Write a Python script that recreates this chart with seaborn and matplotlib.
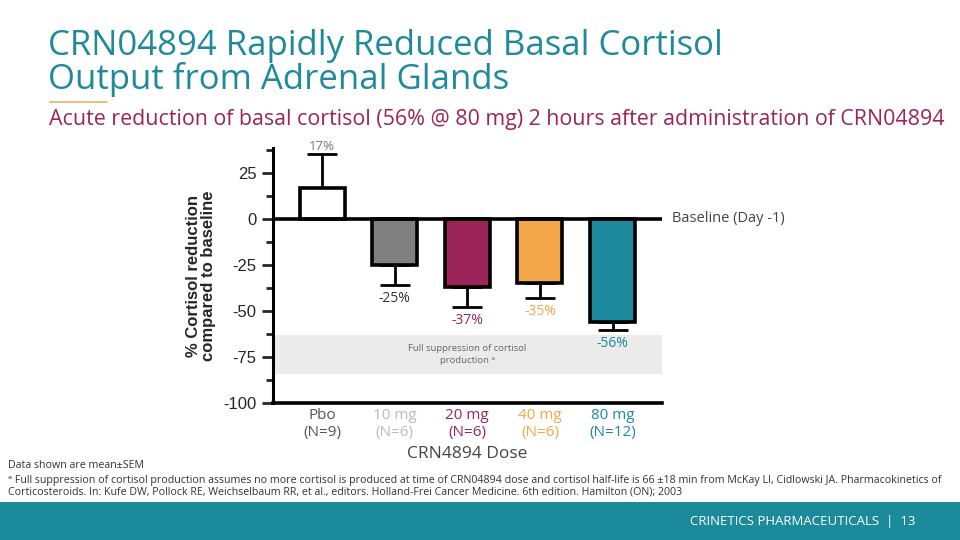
import numpy as np
import pandas as pd
import matplotlib
matplotlib.use("Agg")
import matplotlib.pyplot as plt
import seaborn as sns
from matplotlib.patches import Rectangle
from matplotlib.ticker import MultipleLocator

# data
groups = ["Pbo", "10 mg", "20 mg", "40 mg", "80 mg"]
counts = ["N=9", "N=6", "N=6", "N=6", "N=12"]
change = [17, -25, -37, -35, -56]
sem = [18, 11, 11, 8, 4.5]
value_labels = ["17%", "-25%", "-37%", "-35%", "-56%"]

bar_colors = ["#ffffff", "#808080", "#9b2558", "#f4a74a", "#1c8a9c"]
text_colors = ["#555555", "#bbbbbb", "#9b2558", "#f4a74a", "#1c8a9c"]
label_colors = ["#777777", "#333333", "#9b2558", "#f4a74a", "#1c8a9c"]

TEAL = "#1f8a9c"
SANS = ["Open Sans", "DejaVu Sans"]

df = pd.DataFrame({"group": groups, "change": change, "sem": sem})

sns.set_style("white")
plt.rcParams["font.family"] = SANS
plt.rcParams["axes.unicode_minus"] = False

fig = plt.figure(figsize=(9.6, 5.4), dpi=100)
ax = fig.add_axes([273 / 960, 1 - 403 / 540, (662 - 273) / 960, (403 - 148) / 540])

# shaded suppression zone
ax.axhspan(-84, -63, xmin=0.005, xmax=1.0, color="#ebebeb", zorder=0, lw=0)
ax.text(2.0, -73.5, "Full suppression of cortisol\nproduction ᵃ", ha="center", va="center",
        fontsize=6.8, color="#666666", linespacing=1.4, zorder=1)

sns.barplot(data=df, x="group", y="change", hue="group", palette=bar_colors, saturation=1,
            legend=False, width=0.62, edgecolor="black", linewidth=2.6, ax=ax, zorder=3)

# one-sided error bars
xs = np.arange(len(groups))
lower = [0 if v > 0 else s for v, s in zip(change, sem)]
upper = [s if v > 0 else 0 for v, s in zip(change, sem)]
ax.errorbar(xs, change, yerr=[lower, upper], fmt="none", ecolor="black",
            elinewidth=2.0, capsize=11, capthick=2.0, zorder=2)

# value labels
for i, (v, s, lab) in enumerate(zip(change, sem, value_labels)):
    if v > 0:
        ax.text(i, v + s + 1, lab, ha="center", va="bottom", fontsize=9.5, color=label_colors[i])
    else:
        ax.text(i, v - s - 3, lab, ha="center", va="top", fontsize=10, color=label_colors[i])

ax.axhline(0, color="black", lw=2.6, zorder=4)
ax.set_xlim(-0.675, 4.68)
ax.set_ylim(-100, 38.5)
ax.yaxis.set_major_locator(MultipleLocator(25))
ax.yaxis.set_minor_locator(MultipleLocator(12.5))
for side in ["top", "right"]:
    ax.spines[side].set_visible(False)
ax.spines["left"].set_linewidth(2.2)
ax.spines["bottom"].set_linewidth(2.6)
ax.spines["left"].set_color("black")
ax.spines["bottom"].set_color("black")
ax.tick_params(axis="y", which="major", left=True, length=8, width=2, labelsize=12,
               labelfontfamily="Liberation Sans", pad=4)
ax.tick_params(axis="y", which="minor", left=True, length=5, width=2)
ax.tick_params(axis="x", bottom=False, pad=0)

ax.set_xticks(xs)
ax.set_xticklabels([f"{g}\n({n})" for g, n in zip(groups, counts)], fontsize=11, linespacing=1.15)
for t, c in zip(ax.get_xticklabels(), text_colors):
    t.set_color(c)
ax.set_xlabel("CRN4894 Dose", fontsize=12.5, color="#444444", labelpad=5)
ax.set_ylabel("% Cortisol reduction\ncompared to baseline", fontsize=12, fontweight="bold",
              family="Liberation Sans", labelpad=5, linespacing=1.0)

ax.text(1.025, 0.0, "Baseline (Day -1)", transform=ax.get_yaxis_transform(),
        ha="left", va="center", fontsize=10.5, color="#444444")

# title block
fig.text(48 / 960, 1 - 55 / 540, "CRN04894 Rapidly Reduced Basal Cortisol", fontsize=25,
         color=TEAL, va="baseline", ha="left")
fig.text(48 / 960, 1 - 89 / 540, "Output from Adrenal Glands", fontsize=25,
         color=TEAL, va="baseline", ha="left")
fig.add_artist(plt.Line2D([50 / 960, 107 / 960], [1 - 102 / 540] * 2, color="#f0b060", lw=1.2))
fig.text(49 / 960, 1 - 119 / 540,
         "Acute reduction of basal cortisol (56% @ 80 mg) 2 hours after administration of CRN04894",
         fontsize=15.4, color="#9b2558", va="center", ha="left")

# footnotes
fig.text(8 / 960, 1 - 466 / 540, "Data shown are mean±SEM", fontsize=7.7, color="#333333", va="center")
fig.text(8 / 960, 1 - 480 / 540,
         "ᵃ Full suppression of cortisol production assumes no more cortisol is produced at time of CRN04894 dose "
         "and cortisol half-life is 66 ±18 min from McKay LI, Cidlowski JA. Pharmacokinetics of",
         fontsize=7.7, color="#333333", va="center")
fig.text(8 / 960, 1 - 492 / 540,
         "Corticosteroids. In: Kufe DW, Pollock RE, Weichselbaum RR, et al., editors. Holland-Frei Cancer "
         "Medicine. 6th edition. Hamilton (ON); 2003",
         fontsize=7.7, color="#333333", va="center")

# footer band
fig.add_artist(Rectangle((0, 0), 1, 38 / 540, transform=fig.transFigure, color="#1b8a9b", lw=0))
fig.text(915 / 960, 1 - 521 / 540, "CRINETICS PHARMACEUTICALS  |  13", fontsize=9.5,
         color="white", ha="right", va="center")

fig.savefig("out.png", dpi=100)
